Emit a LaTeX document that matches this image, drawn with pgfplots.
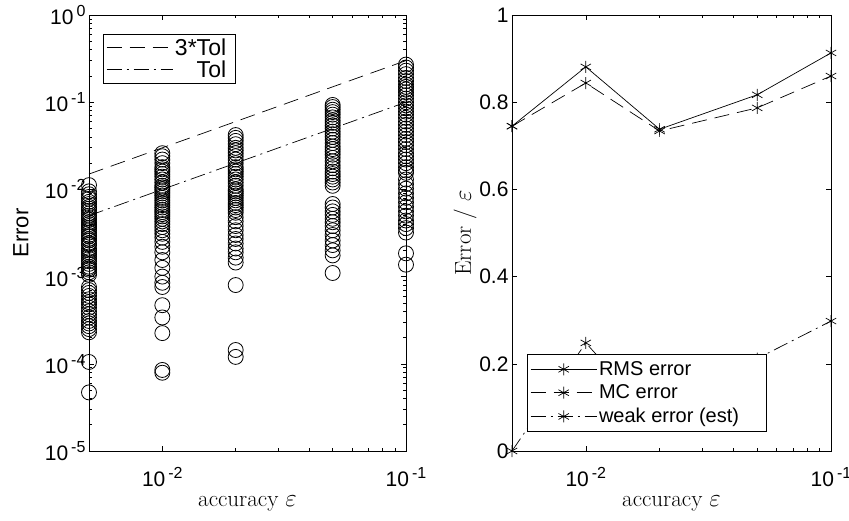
\documentclass[border=0pt]{standalone}
\usepackage{fontspec}
\usepackage{pgfplots}
\pgfplotsset{compat=1.18}
\newfontfamily\hel{Liberation Sans}
\newcommand{\tp}[1]{10\hspace{3pt}\raisebox{8pt}{\fontsize{16}{18}\selectfont #1}}
\pgfplotsset{
    legend image code/.code={\draw[mark repeat=2,mark phase=2,#1] plot coordinates {(0pt,0pt) (33pt,0pt) (66pt,0pt)};},
    every axis/.append style={
    scale only axis, height=436pt,
    clip=false,
    axis line style={line width=0.7pt},
    every tick/.style={line width=0.6pt, black},
    major tick length=5pt, minor tick length=3pt,
    ticklabel style={font=\hel\fontsize{21}{24}\selectfont},
    xticklabel style={anchor=base, yshift=-35pt},
    xlabel style={font=\fontsize{23}{26}\selectfont, at={(axis description cs:0.5,-0.128)}, anchor=base},
    legend style={font=\hel\fontsize{20}{23}\selectfont, draw=black, line width=0.7pt,
      inner xsep=3pt, inner ysep=5pt, row sep=4pt,
      nodes={inner sep=2pt}},
  }
}
\begin{document}
\begin{tikzpicture}
\useasboundingbox (0,0) rectangle (849pt,520pt);
\begin{axis}[
  at={(89pt,69pt)}, anchor=south west, width=317pt,
  xmode=log, xmin=0.005, xmax=0.1,
  xtick={0.01,0.1},
  xticklabels={\tp{-2},\tp{-1}},
  xlabel={accuracy $\varepsilon$},
  ymode=log, ymin=1e-5, ymax=1,
  ytick={1e-5,1e-4,1e-3,1e-2,1e-1,1},
  yticklabels={\tp{-5},\tp{-4},\tp{-3},\tp{-2},\tp{-1},\tp{0}},
  ylabel={Error},
  ylabel style={font=\hel\fontsize{22}{25}\selectfont, at={(axis description cs:-0.215,0.5)}, anchor=center},
  legend cell align=right,
  legend style={at={(0.044,0.956)}, anchor=north west,
    font=\hel\fontsize{23}{26}\selectfont, inner ysep=2pt, row sep=0pt},
]
\addplot[black, line width=0.7pt, dash pattern=on 15pt off 8pt] coordinates {(0.005,0.015) (0.1,0.3)};
\addlegendentry{3*Tol\rule{4pt}{0pt}}
\addplot[black, line width=0.7pt, dash pattern=on 15pt off 5pt on 2pt off 5pt] coordinates {(0.005,0.005) (0.1,0.1)};
\addlegendentry{Tol\rule{4pt}{0pt}}
\addplot[only marks, mark=o, mark size=7.5pt, mark options={line width=0.8pt}, black, forget plot] coordinates {
(0.005,0.0112)(0.005,0.0095)(0.005,0.0088)(0.005,0.0082)(0.005,0.0078)(0.005,0.0072)(0.005,0.0068)(0.005,0.0063)
(0.005,0.0060)(0.005,0.0057)(0.005,0.0053)(0.005,0.0050)(0.005,0.0047)(0.005,0.0045)(0.005,0.0042)(0.005,0.0040)
(0.005,0.0038)(0.005,0.0036)(0.005,0.0034)(0.005,0.0032)(0.005,0.0030)(0.005,0.0029)(0.005,0.0027)(0.005,0.0026)
(0.005,0.0024)(0.005,0.0023)(0.005,0.0021)(0.005,0.0020)(0.005,0.0019)(0.005,0.0018)(0.005,0.0017)(0.005,0.0016)
(0.005,0.0015)(0.005,0.0014)(0.005,0.0013)(0.005,0.00125)(0.005,0.0012)(0.005,0.00112)(0.005,0.00105)
(0.005,0.00076)(0.005,0.00070)(0.005,0.00065)(0.005,0.00060)(0.005,0.00055)(0.005,0.00051)(0.005,0.00048)
(0.005,0.00044)(0.005,0.00040)(0.005,0.00037)(0.005,0.00034)(0.005,0.00031)(0.005,0.00029)(0.005,0.00027)
(0.005,0.00025)(0.005,0.00023)(0.005,0.000105)(0.005,0.000047)
(0.01,0.026)(0.01,0.024)(0.01,0.022)(0.01,0.020)(0.01,0.018)(0.01,0.017)(0.01,0.016)(0.01,0.015)(0.01,0.014)
(0.01,0.013)(0.01,0.012)(0.01,0.011)(0.01,0.0105)(0.01,0.010)(0.01,0.0095)(0.01,0.009)(0.01,0.0085)(0.01,0.008)
(0.01,0.0075)(0.01,0.007)(0.01,0.0066)(0.01,0.0062)(0.01,0.0058)(0.01,0.0055)(0.01,0.0052)(0.01,0.0049)
(0.01,0.0046)(0.01,0.0043)(0.01,0.0040)(0.01,0.0037)(0.01,0.0034)(0.01,0.0031)(0.01,0.0028)(0.01,0.0025)
(0.01,0.0022)(0.01,0.0019)(0.01,0.00155)(0.01,0.00126)(0.01,0.0010)(0.01,0.00085)(0.01,0.00076)
(0.01,0.00047)(0.01,0.00034)(0.01,0.000225)(0.01,0.000085)(0.01,0.000079)
(0.02,0.042)(0.02,0.039)(0.02,0.036)(0.02,0.033)(0.02,0.030)(0.02,0.028)(0.02,0.026)(0.02,0.024)(0.02,0.022)
(0.02,0.020)(0.02,0.018)(0.02,0.017)(0.02,0.016)(0.02,0.015)(0.02,0.014)(0.02,0.013)(0.02,0.012)(0.02,0.011)
(0.02,0.010)(0.02,0.0095)(0.02,0.009)(0.02,0.0085)(0.02,0.008)(0.02,0.0075)(0.02,0.007)(0.02,0.0066)
(0.02,0.0062)(0.02,0.0058)(0.02,0.0054)(0.02,0.0048)(0.02,0.0043)(0.02,0.0038)(0.02,0.0034)(0.02,0.003)
(0.02,0.0027)(0.02,0.0024)(0.02,0.0021)(0.02,0.0019)(0.02,0.00165)(0.02,0.00145)(0.02,0.0008)
(0.02,0.000144)(0.02,0.00012)
(0.05,0.093)(0.05,0.088)(0.05,0.082)(0.05,0.077)(0.05,0.072)(0.05,0.067)(0.05,0.062)(0.05,0.058)(0.05,0.054)
(0.05,0.050)(0.05,0.046)(0.05,0.043)(0.05,0.040)(0.05,0.037)(0.05,0.034)(0.05,0.031)(0.05,0.029)(0.05,0.027)
(0.05,0.025)(0.05,0.023)(0.05,0.021)(0.05,0.019)(0.05,0.0175)(0.05,0.016)(0.05,0.015)(0.05,0.014)(0.05,0.013)
(0.05,0.012)(0.05,0.011)(0.05,0.0068)(0.05,0.0062)(0.05,0.0056)(0.05,0.0051)(0.05,0.0046)(0.05,0.0042)
(0.05,0.0038)(0.05,0.0034)(0.05,0.003)(0.05,0.0026)(0.05,0.0023)(0.05,0.002)(0.05,0.00175)(0.05,0.0011)
(0.1,0.27)(0.1,0.25)(0.1,0.23)(0.1,0.21)(0.1,0.19)(0.1,0.175)(0.1,0.16)(0.1,0.15)(0.1,0.14)(0.1,0.13)
(0.1,0.12)(0.1,0.11)(0.1,0.10)(0.1,0.092)(0.1,0.085)(0.1,0.078)(0.1,0.072)(0.1,0.066)(0.1,0.06)(0.1,0.055)
(0.1,0.05)(0.1,0.046)(0.1,0.042)(0.1,0.038)(0.1,0.035)(0.1,0.032)(0.1,0.029)(0.1,0.026)(0.1,0.024)(0.1,0.022)
(0.1,0.02)(0.1,0.018)(0.1,0.0165)(0.1,0.0155)(0.1,0.013)(0.1,0.0115)(0.1,0.0102)(0.1,0.009)(0.1,0.008)
(0.1,0.0071)(0.1,0.0063)(0.1,0.0056)(0.1,0.005)(0.1,0.0044)(0.1,0.004)(0.1,0.0036)(0.1,0.0032)
(0.1,0.00185)(0.1,0.00137)
};
\end{axis}
\begin{axis}[
  at={(512pt,69pt)}, anchor=south west, width=319pt,
  xmode=log, xmin=0.005, xmax=0.1,
  xtick={0.01,0.1},
  xticklabels={\tp{-2},\tp{-1}},
  xlabel={accuracy $\varepsilon$},
  ymin=0, ymax=1,
  ytick={0,0.2,0.4,0.6,0.8,1},
  yticklabels={0,0.2,0.4,0.6,0.8,1},
  ylabel={Error / $\varepsilon$},
  ylabel style={font=\fontsize{23}{26}\selectfont, at={(axis description cs:-0.147,0.5)}, anchor=center},
  legend cell align=left,
  legend style={at={(0.047,0.044)}, anchor=south west},
]
\addplot[black, line width=0.7pt, mark=asterisk, mark size=6pt, mark options={solid, line width=0.7pt}] coordinates {
(0.005,0.745) (0.01,0.881) (0.02,0.738) (0.05,0.817) (0.1,0.913)};
\addlegendentry{RMS error}
\addplot[black, line width=0.7pt, dash pattern=on 15pt off 8pt, mark=asterisk, mark size=6pt, mark options={solid, line width=0.7pt}] coordinates {
(0.005,0.745) (0.01,0.844) (0.02,0.734) (0.05,0.787) (0.1,0.860)};
\addlegendentry{MC error}
\addplot[black, line width=0.7pt, dash pattern=on 15pt off 5pt on 2pt off 5pt, mark=asterisk, mark size=6pt, mark options={solid, line width=0.7pt}] coordinates {
(0.005,0.0) (0.01,0.248) (0.02,0.06) (0.05,0.212) (0.1,0.298)};
\addlegendentry{weak error (est)\rule{22pt}{0pt}}
\end{axis}
\end{tikzpicture}
\end{document}
